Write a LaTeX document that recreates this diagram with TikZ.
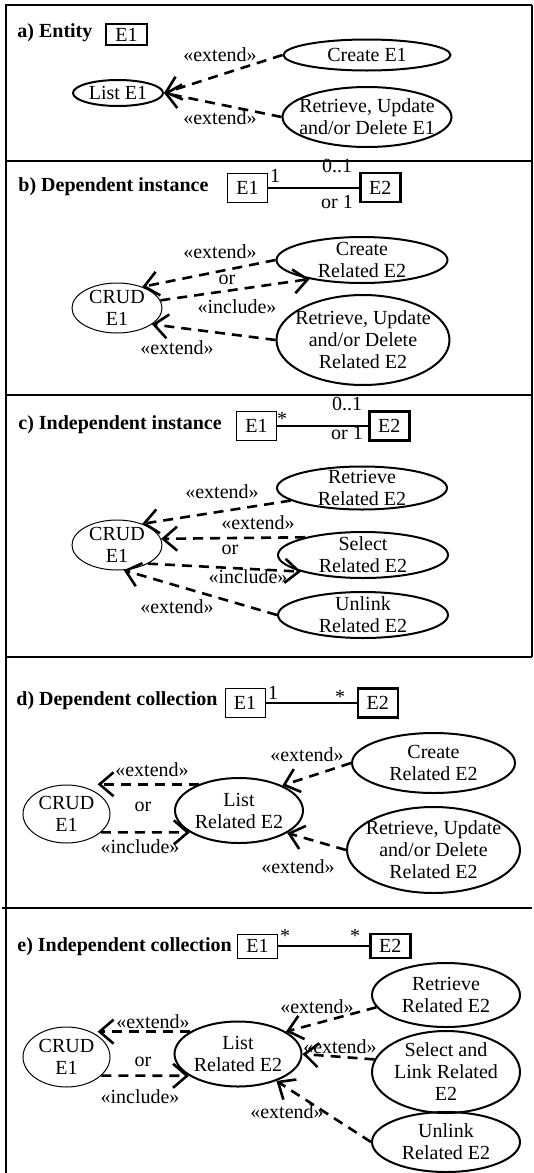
\documentclass[tikz,border=0pt]{standalone}
\usepackage{fontspec}
\setmainfont{Liberation Serif}
\usetikzlibrary{shapes.geometric, arrows.meta, positioning}

\begin{document}
\fontsize{10}{11}\selectfont
\begin{tikzpicture}[
    x=0.5pt, y=-0.5pt,
    panel/.style={line width=1pt},
    title/.style={anchor=west, font=\bfseries, inner sep=0pt},
    ent/.style={rectangle, draw, line width=0.5pt, minimum width=20pt, minimum height=14.5pt, inner sep=0pt},
    entb/.style={ent, line width=1.3pt},
    uc/.style={ellipse, draw, line width=1pt, align=center, inner xsep=-6pt, inner ysep=-3pt},
    ucthin/.style={uc, line width=0.5pt},
    lbl/.style={inner sep=0pt},
    assoc/.style={line width=1pt},
    dep/.style={line width=1.3pt, dash pattern=on 5pt off 3.5pt, -{Straight Barb[length=7pt, width=12pt]}}
]
\useasboundingbox (0,0) rectangle (534,1173);

% Frame and panel borders
\draw[panel] (5,5) -- (532,5);
\draw[panel] (6,5) -- (6,1173);
\draw[panel] (532,5) -- (532,657);
\foreach \y in {161,395,657} \draw[panel] (6,\y) -- (532,\y);
\draw[panel] (2,908) -- (532,908);

% Panel a
\node[title] (ta) at (17,33) {a) Entity};
\node[entb, minimum width=20.5pt, minimum height=10.5pt] (a1) at (126.5,34.5) {E1};
\node[uc, minimum width=83.5pt, minimum height=15.5pt] (acr) at (367,55) {Create E1};
\node[uc, minimum width=45pt, minimum height=13pt] (al) at (118,93) {List E1};
\node[uc, minimum width=84.5pt, minimum height=30pt] (arud) at (367,117) {Retrieve, Update\\and/or Delete E1};
\draw[dep] (acr.west) -- (al.east);
\draw[dep] (arud.west) -- (al.east);
\node[lbl] (ax1) at (220,55) {«extend»};
\node[lbl] (ax2) at (220,118) {«extend»};

% Panel b
\node[title] (tb) at (18,187) {b) Dependent instance};
\node[ent] (b1) at (247.5,187.5) {E1};
\node[entb, right=45.5pt of b1] (b2) {E2};
\draw[assoc] (b1) -- (b2);
\node[lbl] (bm1) at (275,176) {1};
\node[lbl] (bm2) at (337,166) {0..1};
\node[lbl] (bm3) at (337,202) {or 1};
\node[ucthin, minimum width=45pt, minimum height=25pt] (bc) at (117,308) {CRUD\\E1};
\node[uc, minimum width=85.5pt, minimum height=23pt] (bcr) at (362,260) {Create\\Related E2};
\node[uc, minimum width=86.5pt, minimum height=45pt] (brud) at (363,340) {Retrieve, Update\\and/or Delete\\Related E2};
\draw[dep] (bcr.west) -- (bc.40);
\draw[dep] (bc.10) -- (bcr.200);
\draw[dep] (brud.west) -- (bc.-25);
\node[lbl] (bx1) at (220,252) {«extend»};
\node[lbl] (bor) at (227,280) {or};
\node[lbl] (bin) at (237,307) {«include»};
\node[lbl] (bx2) at (177,348) {«extend»};

% Panel c
\node[title] (tc) at (18,425) {c) Independent instance};
\node[ent] (c1) at (256.5,426) {E1};
\node[entb, right=45.5pt of c1] (c2) {E2};
\draw[assoc] (c1) -- (c2);
\node[lbl] (cm1) at (282,419) {*};
\node[lbl] (cm2) at (347,404) {0..1};
\node[lbl] (cm3) at (347,433) {or 1};
\node[ucthin, minimum width=45pt, minimum height=25pt] (cc) at (117,545) {CRUD\\E1};
\node[uc, minimum width=85pt, minimum height=21.5pt] (cr) at (362,488) {Retrieve\\Related E2};
\node[uc, minimum width=85pt, minimum height=23pt] (cs) at (363,555) {Select\\Related E2};
\node[uc, minimum width=85pt, minimum height=23pt] (cu) at (363,615) {Unlink\\Related E2};
\draw[dep] (cr.190) -- (cc.40);
\draw[dep] (cs.163) -- (cc.8);
\draw[dep] (cc.-31) -- (cs.195);
\draw[dep] (cu.west) -- (cc.-75);
\node[lbl] (cx1) at (222,492) {«extend»};
\node[lbl] (cx2) at (258,523) {«extend»};
\node[lbl] (cor) at (230,550) {or};
\node[lbl] (cin) at (248,577) {«include»};
\node[lbl] (cx3) at (177,607) {«extend»};

% Panel d
\node[title] (td) at (16,701) {d) Dependent collection};
\node[ent] (d1) at (245,703) {E1};
\node[entb, right=45.5pt of d1] (d2) {E2};
\draw[assoc] (d1) -- (d2);
\node[lbl] (dm1) at (273,693) {1};
\node[lbl] (dm2) at (340,697) {*};
\node[ucthin, minimum width=43.5pt, minimum height=29pt] (dc) at (66.5,814) {CRUD\\E1};
\node[uc, minimum width=64pt, minimum height=32.5pt] (dl) at (239,810.5) {List\\Related E2};
\node[uc, minimum width=81.5pt, minimum height=30pt] (dcr) at (433.5,763) {Create\\Related E2};
\node[uc, minimum width=86.5pt, minimum height=43pt] (drud) at (433.5,850) {Retrieve, Update\\and/or Delete\\Related E2};
\draw[dep] (dl.147) -- (dl.147 -| dc.north east);
\draw[dep] (dc.-28) -- (dl.204);
\draw[dep] (dcr.west) -- (dl.30);
\draw[dep] (drud.west) -- (dl.-25);
\node[lbl] (dx1) at (152,770) {«extend»};
\node[lbl] (dor) at (143,807) {or};
\node[lbl] (din) at (140,847) {«include»};
\node[lbl] (dx2) at (307,755) {«extend»};
\node[lbl] (dx3) at (298,867) {«extend»};

% Panel e
\node[title] (te) at (17,947) {e) Independent collection};
\node[ent, minimum height=12pt] (e1) at (257.5,946) {E1};
\node[entb, minimum height=12pt, right=45.5pt of e1] (e2) {E2};
\draw[assoc] (e1) -- (e2);
\node[lbl] (em1) at (285,936) {*};
\node[lbl] (em2) at (355,936) {*};
\node[ucthin, minimum width=43.5pt, minimum height=30pt] (ec) at (66.5,1057) {CRUD\\E1};
\node[uc, minimum width=63.5pt, minimum height=32.5pt] (el) at (238,1054) {List\\Related E2};
\node[uc, minimum width=74pt, minimum height=32pt] (er) at (446,995) {Retrieve\\Related E2};
\node[uc, minimum width=74pt, minimum height=41pt] (es) at (446,1072) {Select and\\Link Related\\E2};
\node[uc, minimum width=74pt, minimum height=30pt] (eu) at (446,1142) {Unlink\\Related E2};
\draw[dep] (el.155) -- (el.155 -| ec.north east);
\draw[dep] (ec.-28) -- (el.204);
\draw[dep] (er.190) -- (el.25);
\draw[dep] (es.170) -- (el.east);
\draw[dep] (eu.west) -- (el.-35);
\node[lbl] (ex1) at (153,1022) {«extend»};
\node[lbl] (eor) at (143,1062) {or};
\node[lbl] (ein) at (140,1097) {«include»};
\node[lbl] (ex2) at (317,1007) {«extend»};
\node[lbl] (ex3) at (340,1047) {«extend»};
\node[lbl] (ex4) at (287,1112) {«extend»};

\end{tikzpicture}
\end{document}
